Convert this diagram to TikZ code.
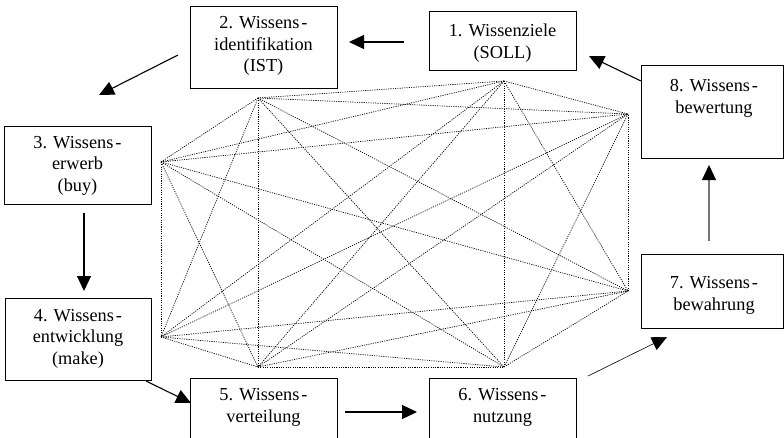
\documentclass[tikz,border=0pt]{standalone}
\usepackage{fontspec}
\setmainfont{Liberation Serif}
\usetikzlibrary{arrows.meta}
\newcommand{\hy}{\kern2pt-}
\begin{document}
\begin{tikzpicture}[x=1pt,y=-1pt,
  box/.style={draw=black,line width=0.9pt,inner sep=0pt},
  txt/.style={align=center,font=\fontsize{18.3}{21.5}\selectfont,inner sep=0pt},
  arr/.style={line width=1.1pt,-{Triangle[length=15pt,width=14pt]}},
  net/.style={line width=0.7pt,dash pattern=on 1.1pt off 1.2pt,black}]
\useasboundingbox (0,0) rectangle (784,437);
% boxes
\node[box,minimum width=147pt,minimum height=82pt] (b2) at (263.5,47) {};
\node[txt] (t2) at (263.5,46) {2. Wissens\hy\\identifikation\\(IST)};
\node[box,minimum width=147pt,minimum height=59pt] (b1) at (502.5,40.5) {};
\node[txt] (t1) at (502.5,43) {1. Wissenziele\\(SOLL)};
\node[box,minimum width=142pt,minimum height=93pt] (b8) at (712,111.5) {};
\node[txt] (t8) at (714,98.5) {8. Wissens\hy\\bewertung};
\node[box,minimum width=147pt,minimum height=78pt] (b3) at (77.5,165) {};
\node[txt] (t3) at (77.5,165.5) {3. Wissens\hy\\erwerb\\(buy)};
\node[box,minimum width=146pt,minimum height=82pt] (b4) at (78,339) {};
\node[txt] (t4) at (78,338.5) {4. Wissens\hy\\entwicklung\\(make)};
\node[box,minimum width=147pt,minimum height=60pt] (b5) at (263.5,408) {};
\node[txt] (t5) at (263.5,407.5) {5. Wissens\hy\\verteilung};
\node[box,minimum width=147pt,minimum height=60pt] (b6) at (502.5,408) {};
\node[txt] (t6) at (502.5,407.5) {6. Wissens\hy\\nutzung};
\node[box,minimum width=142pt,minimum height=74pt] (b7) at (712,291) {};
\node[txt] (t7) at (714,295.5) {7. Wissens\hy\\bewahrung};
% arrow end points
\coordinate (a12s) at (404,42); \coordinate (a12e) at (349,42);
\coordinate (a23s) at (178,55); \coordinate (a23e) at (99,95);
\coordinate (a34s) at (84,213); \coordinate (a34e) at (84,291);
\coordinate (a45s) at (146,381); \coordinate (a45e) at (191,403);
\coordinate (a56s) at (345,412); \coordinate (a56e) at (417,412);
\coordinate (a67s) at (588,376); \coordinate (a67e) at (667,337);
\coordinate (a78s) at (709,241); \coordinate (a78e) at (709,165);
\coordinate (a81s) at (641,81); \coordinate (a81e) at (589,56);
\draw[arr] (a12s) -- (a12e);
\draw[arr] (a23s) -- (a23e);
\draw[arr] (a34s) -- (a34e);
\draw[arr] (a45s) -- (a45e);
\draw[arr] (a56s) -- (a56e);
\draw[arr,line width=0.6pt] (a67s) -- (a67e);
\draw[line width=1.1pt,draw=black!55,-{Triangle[length=15pt,width=14pt,color=black]}] (a78s) -- (a78e);
\draw[arr] (a81s) -- (a81e);
% network
\coordinate (p1) at (504,81);
\coordinate (p2) at (258,98);
\coordinate (p3) at (161,162);
\coordinate (p4) at (161,337);
\coordinate (p5) at (258,367);
\coordinate (p6) at (504,367);
\coordinate (p7) at (628,291);
\coordinate (p8) at (628,114);
\foreach \i in {1,...,8}{
  \foreach \j in {1,...,8}{
    \ifnum\i<\j
      \draw[net] (p\i) -- (p\j);
    \fi
  }
}
\end{tikzpicture}
\end{document}
